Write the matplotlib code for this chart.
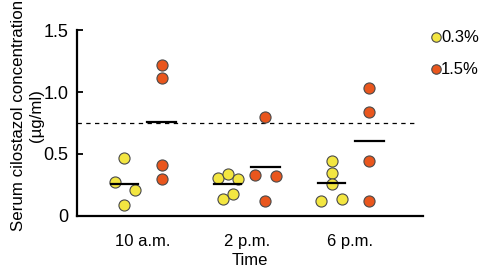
import matplotlib
matplotlib.use('Agg')
import matplotlib.pyplot as plt
import numpy as np

# ----------------------------------------------------------------------------------------------------------------------
#  DATA
# ----------------------------------------------------------------------------------------------------------------------
times       = ['10 a.m.', '2 p.m.', '6 p.m.']
low_dose    = [[0.47, 0.27, 0.21, 0.09],
               [0.31, 0.34, 0.30, 0.14, 0.18],
               [0.44, 0.35, 0.26, 0.12, 0.14]]
low_jitter  = [[0.0, -0.09, 0.10, 0.0],
               [-0.10, 0.0, 0.10, -0.05, 0.05],
               [0.0, 0.0, 0.0, -0.10, 0.10]]
high_dose   = [[1.22, 1.11, 0.41, 0.30],
               [0.80, 0.33, 0.32, 0.12],
               [1.03, 0.84, 0.44, 0.12]]
high_jitter = [[0.0, 0.0, 0.0, 0.0],
               [0.0, -0.10, 0.10, 0.0],
               [0.0, 0.0, 0.0, 0.0]]
threshold   = 0.75
labels      = ['0.3%', '1.5%']

# ----------------------------------------------------------------------------------------------------------------------
#  PLOT
# ----------------------------------------------------------------------------------------------------------------------
plt.rcParams['font.family'] = ['Liberation Sans', 'DejaVu Sans']

yellow = '#f3e641'
orange = '#e9561d'
edge   = '#4a4a4a'
offset = 0.18

fig = plt.figure(figsize=(4.84, 2.73), dpi=100)
ax  = fig.add_axes([0.159, 0.209, 0.715, 0.681])

for i in range(len(times)):
    x_low  = i - offset + np.array(low_jitter[i])
    x_high = i + offset + np.array(high_jitter[i])
    ax.scatter(x_low, low_dose[i], s=64, color=yellow, edgecolor=edge, linewidth=0.8, zorder=3,
               label=labels[0] if i == 0 else None)
    ax.scatter(x_high, high_dose[i], s=64, color=orange, edgecolor=edge, linewidth=0.8, zorder=3,
               label=labels[1] if i == 0 else None)
    # group means
    ax.plot([i - offset - 0.13, i - offset + 0.13], [np.mean(low_dose[i])] * 2, color='black', lw=1.6, zorder=4)
    ax.plot([i + offset - 0.14, i + offset + 0.14], [np.mean(high_dose[i])] * 2, color='black', lw=1.6, zorder=4)

ax.axhline(threshold, xmin=0, xmax=0.985, color='black', lw=0.9, ls=(0, (3.5, 3.5)), zorder=1)

ax.set_xlim(-0.635, 2.70)
ax.set_ylim(0, 1.5)
ax.set_xticks(range(len(times)))
ax.set_xticklabels(times)
ax.set_yticks([0, 0.5, 1.0, 1.5])
ax.set_yticklabels(['0', '0.5', '1.0', '1.5'])
ax.tick_params(axis='x', length=0, labelsize=12, pad=13)
ax.tick_params(axis='y', direction='in', length=4, width=1.3, labelsize=13, pad=6)

for side in ['top', 'right']:
    ax.spines[side].set_visible(False)
for side in ['left', 'bottom']:
    ax.spines[side].set_linewidth(1.6)

ax.set_xlabel('Time', fontsize=12, labelpad=3)
ax.set_ylabel('Serum cilostazol concentration\n(µg/ml)', fontsize=12.2, linespacing=1.25)
ax.yaxis.set_label_coords(-0.095, 0.54)

fig.legend(loc='upper left', bbox_to_anchor=(0.87, 0.915), frameon=False, fontsize=12,
           handletextpad=-0.2, labelspacing=1.0, borderaxespad=0, handlelength=1.0, markerscale=0.85)

fig.savefig('out.png', dpi=100)
